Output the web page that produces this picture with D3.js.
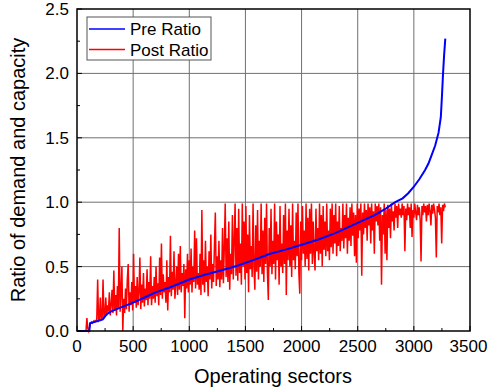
<!DOCTYPE html>
<html>
<head>
<meta charset="utf-8">
<script src="https://cdn.jsdelivr.net/npm/d3@7"></script>
<style>
  body {margin: 0; background: #fff;}
  svg {font-family: "Liberation Sans", Arial, sans-serif;}
</style>
</head>
<body>
<div id="chart"></div>
<script>
// blue curve: sector -> pre ratio (sorted)
const preSectors = [0, 110, 116, 230, 265, 300, 380, 500, 600, 700, 830, 1000, 1130, 1280, 1420, 1570, 1720, 1850, 2000, 2150, 2300, 2500, 2650, 2750, 2834, 2900, 2950, 3000, 3050, 3100, 3130, 3160, 3190, 3220, 3240, 3250, 3260, 3270, 3280];
const preRatio = [0, 0, 0.06, 0.09, 0.13, 0.15, 0.18, 0.22, 0.26, 0.30, 0.34, 0.40, 0.435, 0.47, 0.505, 0.55, 0.60, 0.63, 0.67, 0.71, 0.76, 0.84, 0.90, 0.95, 1.0, 1.03, 1.07, 1.12, 1.18, 1.25, 1.30, 1.37, 1.44, 1.54, 1.66, 1.82, 2.0, 2.15, 2.27];

// red curve: one reading every 8 sectors starting at sector 80
const postStart = 80, postStep = 8;
const postRatio = [
  0, 0.1, 0.02, 0, 0.03, 0.06, 0.07, 0.06, 0.07, 0.08, 0.07, 0.08, 0.09, 0.4, 0.08, 0.09, 0.26, 0.09, 0.1, 0.4, 0.1, 0.12, 0.26, 0.12, 0.2,
  0.15, 0.3, 0.12, 0.2, 0.32, 0.14, 0.47, 0.16, 0.28, 0.12, 0.35, 0.18, 0.8, 0.15, 0.3, 0.5, 0.0, 0.25, 0.14, 0.33, 0.17, 0.4, 0.52, 0.15, 0.3,
  0.2, 0.38, 0.16, 0.6, 0.22, 0.35, 0.18, 0.42, 0.2, 0.3, 0.57, 0.17, 0.36, 0.22, 0.45, 0.19, 0.33, 0.24, 0.48, 0.2, 0.38, 0.25, 0.58, 0.2, 0.35,
  0.25, 0.42, 0.22, 0.5, 0.27, 0.37, 0.2, 0.57, 0.28, 0.68, 0.25, 0.44, 0.3, 0.38, 0.22, 0.55, 0.16, 0.42, 0.3, 0.74, 0.27, 0.46, 0.32, 0.62, 0.25,
  0.36, 0.5, 0.28, 0.6, 0.32, 0.66, 0.3, 0.45, 0.35, 0.52, 0.1, 0.48, 0.33, 0.6, 0.3, 0.55, 0.36, 0.64, 0.3, 0.5, 0.38, 0.78, 0.33, 0.72, 0.36,
  0.45, 0.32, 0.6, 0.28, 0.94, 0.36, 0.55, 0.3, 0.7, 0.38, 0.5, 0.27, 0.62, 0.4, 0.75, 0.33, 0.52, 0.38, 0.66, 0.92, 0.35, 0.58, 0.4, 0.7, 0.34,
  0.55, 0.4, 0.8, 0.37, 0.65, 0.99, 0.42, 0.72, 0.38, 0.85, 0.32, 0.6, 0.44, 0.9, 0.4, 0.7, 0.99, 0.43, 0.8, 0.39, 0.95, 0.45, 0.68, 0.36, 0.99,
  0.5, 0.85, 0.4, 0.97, 0.45, 0.75, 0.3, 0.9, 0.48, 0.66, 0.42, 0.99, 0.5, 0.32, 0.82, 0.46, 0.94, 0.4, 0.7, 0.5, 0.99, 0.44, 0.78, 0.38, 0.88,
  0.52, 0.99, 0.45, 0.24, 0.8, 0.5, 0.95, 0.44, 0.7, 0.52, 0.99, 0.4, 0.85, 0.55, 0.75, 0.36, 0.97, 0.5, 0.68, 0.45, 0.9, 0.52, 0.99, 0.28, 0.78,
  0.55, 0.95, 0.5, 0.82, 0.42, 0.99, 0.55, 0.7, 0.48, 0.92, 0.58, 0.99, 0.45, 0.29, 0.85, 0.55, 0.97, 0.6, 0.78, 0.5, 0.99, 0.56, 0.88, 0.47, 0.95,
  0.6, 0.99, 0.52, 0.85, 0.6, 0.47, 0.95, 0.62, 0.8, 0.55, 0.99, 0.6, 0.9, 0.5, 0.97, 0.63, 0.85, 0.58, 0.99, 0.62, 0.78, 0.55, 0.95, 0.65, 0.99,
  0.6, 0.9, 0.68, 0.99, 0.58, 0.85, 0.66, 0.97, 0.62, 0.8, 0.7, 0.99, 0.64, 0.9, 0.72, 0.99, 0.6, 0.88, 0.7, 0.96, 0.66, 0.99, 0.74, 0.92, 0.58,
  0.9, 0.53, 0.99, 0.72, 0.95, 0.78, 0.99, 0.43, 0.92, 0.75, 0.99, 0.8, 0.94, 0.7, 0.99, 0.82, 0.96, 0.68, 0.99, 0.78, 0.93, 0.6, 0.99, 0.85, 0.97,
  0.82, 0.99, 0.7, 0.96, 0.36, 0.9, 0.75, 0.99, 0.6, 0.94, 0.55, 0.98, 0.8, 0.95, 0.72, 0.99, 0.85, 0.93, 0.78, 0.99, 0.88, 0.97, 0.8, 0.99, 0.9,
  0.95, 0.88, 0.99, 0.9, 0.97, 0.62, 0.95, 0.86, 0.99, 0.9, 0.96, 0.8, 0.99, 0.73, 0.94, 0.88, 0.99, 0.92, 0.86, 0.98, 0.9, 0.96, 0.87, 0.54, 0.97,
  0.9, 0.99, 0.92, 0.97, 0.85, 0.98, 0.9, 0.99, 0.93, 0.82, 0.98, 0.91, 0.99, 0.94, 0.88, 0.57, 0.97, 0.92, 0.99, 0.9, 0.96, 0.68, 0.98, 0.93, 0.99, 0.96
];

const xTicks = [0, 500, 1000, 1500, 2000, 2500, 3000, 3500];
const yTicks = [0, 0.5, 1.0, 1.5, 2.0, 2.5];
const seriesNames = ['Pre Ratio', 'Post Ratio'];
const seriesColors = ['#0000ff', '#ff0000'];

const W = 488, H = 391;
const margin = {top: 9, right: 18, bottom: 60, left: 77};
const width = W - margin.left - margin.right;
const height = H - margin.top - margin.bottom;

const svg = d3.select('#chart').append('svg')
  .attr('width', W)
  .attr('height', H);

const g = svg.append('g')
  .attr('transform', 'translate(' + margin.left + ',' + margin.top + ')');

const x = d3.scaleLinear().domain([0, 3500]).range([0, width]);
const y = d3.scaleLinear().domain([0, 2.5]).range([height, 0]);

// grid
g.append('g').selectAll('line').data(xTicks.slice(1, -1)).join('line')
  .attr('x1', d => x(d)).attr('x2', d => x(d))
  .attr('y1', 0).attr('y2', height)
  .attr('stroke', '#707070').attr('stroke-width', 1);
g.append('g').selectAll('line').data(yTicks.slice(1, -1)).join('line')
  .attr('y1', d => y(d)).attr('y2', d => y(d))
  .attr('x1', 0).attr('x2', width)
  .attr('stroke', '#707070').attr('stroke-width', 1);

// data lines
const postData = postRatio.map((v, i) => [postStart + i * postStep, v]);
const preData = preSectors.map((s, i) => [s, preRatio[i]]);

const line = d3.line().x(d => x(d[0])).y(d => y(d[1]));

g.append('path').datum(postData)
  .attr('d', line)
  .attr('fill', 'none')
  .attr('stroke', seriesColors[1])
  .attr('stroke-width', 1.5);

g.append('path').datum(preData)
  .attr('d', line)
  .attr('fill', 'none')
  .attr('stroke', seriesColors[0])
  .attr('stroke-width', 2);

// axes with inward ticks
const minorX = d3.range(0, 3501, 250);
const minorY = d3.range(0, 2.501, 0.25);

const xAxis = g.append('g').attr('transform', 'translate(0,' + height + ')');
xAxis.selectAll('line').data(minorX).join('line')
  .attr('x1', d => x(d)).attr('x2', d => x(d))
  .attr('y1', 0).attr('y2', d => xTicks.includes(d) ? -5 : -3)
  .attr('stroke', '#000');
xAxis.selectAll('text').data(xTicks).join('text')
  .attr('x', (d, i) => x(d) - (i === xTicks.length - 1 ? 1.5 : 0))
  .attr('y', 20.5)
  .attr('text-anchor', 'middle')
  .attr('font-size', 17)
  .text(d => d);

const yAxis = g.append('g');
yAxis.selectAll('line').data(minorY).join('line')
  .attr('y1', d => y(d)).attr('y2', d => y(d))
  .attr('x1', 0).attr('x2', d => yTicks.some(t => Math.abs(t - d) < 1e-6) ? 5 : 3)
  .attr('stroke', '#000');
yAxis.selectAll('text').data(yTicks).join('text')
  .attr('x', -8).attr('y', d => y(d) + 6)
  .attr('text-anchor', 'end')
  .attr('font-size', 17)
  .text(d => d3.format('.1f')(d));

// frame
g.append('rect')
  .attr('width', width).attr('height', height)
  .attr('fill', 'none')
  .attr('stroke', '#000')
  .attr('stroke-width', 1.5);

// titles
svg.append('text')
  .attr('x', 273).attr('y', 383)
  .attr('text-anchor', 'middle')
  .attr('font-size', 20)
  .text('Operating sectors');
svg.append('text')
  .attr('transform', 'translate(25,170) rotate(-90)')
  .attr('text-anchor', 'middle')
  .attr('font-size', 20)
  .text('Ratio of demand and capacity');

// legend
const legend = g.append('g').attr('transform', 'translate(10,8)');
legend.append('rect')
  .attr('width', 124).attr('height', 43)
  .attr('fill', '#fff')
  .attr('stroke', '#555');
seriesNames.forEach((name, i) => {
  legend.append('line')
    .attr('x1', 2).attr('x2', 38)
    .attr('y1', 12 + i * 20.5).attr('y2', 12 + i * 20.5)
    .attr('stroke', seriesColors[i]).attr('stroke-width', 1.5);
  legend.append('text')
    .attr('x', 43).attr('y', 18 + i * 21)
    .attr('font-size', 17)
    .text(name);
});
</script>
</body>
</html>
